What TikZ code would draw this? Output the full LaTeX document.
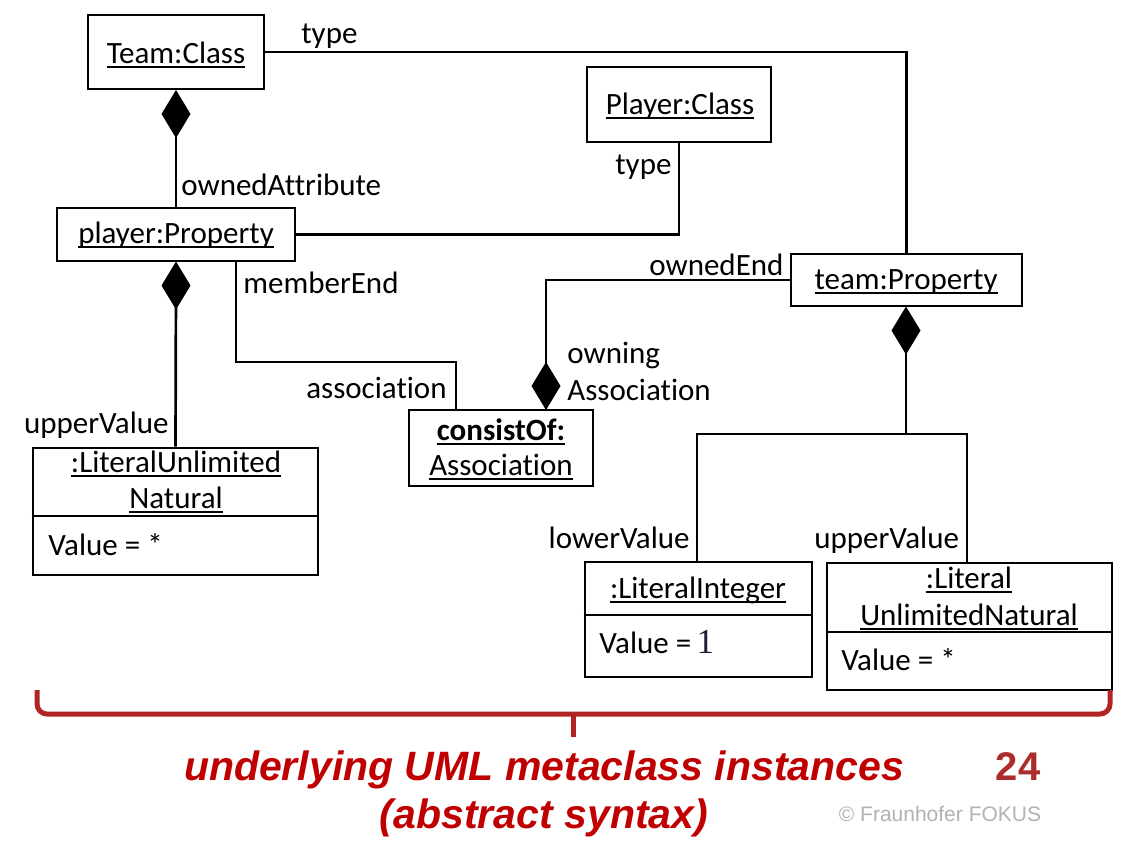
\documentclass[tikz,border=0pt]{standalone}
\usepackage{fontspec}
\setmainfont[Ligatures={NoCommon}]{Carlito}
\newfontfamily\arialf{Liberation Sans}
\newfontfamily\serifone{Liberation Serif}
\usetikzlibrary{shapes.geometric}
\definecolor{bracered}{RGB}{178,36,36}
\definecolor{textred}{RGB}{192,0,0}
\definecolor{numred}{RGB}{172,44,44}
\definecolor{copygray}{RGB}{178,178,178}
\definecolor{onecol}{RGB}{30,30,60}
\newsavebox\ulbox
\newcommand{\uln}[1]{\sbox\ulbox{#1}\leavevmode\rlap{\rule[-5pt]{\wd\ulbox}{1.8pt}}\usebox\ulbox}
\begin{document}
\begin{tikzpicture}[x=1pt,y=-1pt,line width=2.7pt,
  every node/.style={font=\fontsize{31}{37}\selectfont, inner sep=0pt},
  box/.style={draw, line width=2.7pt, inner sep=0pt},
  diam/.style={diamond, fill=black, draw=none, inner sep=0pt, outer sep=0pt, minimum width=29pt, minimum height=48pt},
  bottomtxt/.style={font=\arialf\bfseries\itshape\fontsize{41}{48}\selectfont, text=textred}]
\useasboundingbox (0,0) rectangle (1132,849);
\fill[white] (0,0) rectangle (1132,849);

% boxes
\node[box, minimum width=176pt, minimum height=74pt] (TC) at (176,52) {};
\node[box, minimum width=238pt, minimum height=53pt] (PP) at (176,234.5) {};
\node[box, minimum width=184pt, minimum height=75pt] (PC) at (679,104.5) {};
\node[box, minimum width=231pt, minimum height=52pt] (TP) at (906.5,280) {};
\node[box, minimum width=184pt, minimum height=76pt] (CO) at (501,448) {};
\node[box, minimum width=285pt, minimum height=127pt] (LB) at (175.5,511.5) {};
\node[box, minimum width=227pt, minimum height=115pt] (LI) at (698.5,619.5) {};
\node[box, minimum width=285pt, minimum height=127pt] (RB) at (969.5,626.5) {};

% dividers
\draw (LB.west |- 0,516) -- (LB.east |- 0,516);
\draw (LI.west |- 0,615) -- (LI.east |- 0,615);
\draw (RB.west |- 0,632) -- (RB.east |- 0,632);

% diamonds
\node[diam] (D1) at (176,114) {};
\node[diam] (D2) at (176,285.5) {};
\node[diam] (D3) at (546,386) {};
\node[diam] (D4) at (906,330.5) {};

% box texts
\node[anchor=base] (tTC) at (176,63) {\uln{Team:Class}};
\node[anchor=base] (tPP) at (176,243) {\uln{player:Property}};
\node[anchor=base] (tPC) at (680,114) {\uln{Player:Class}};
\node[anchor=base] (tTP) at (906,289) {\uln{team:Property}};
\node[anchor=base] (tCO1) at (501,440) {\uln{\bfseries consistOf:}};
\node[anchor=base] (tCO2) at (501,475) {\uln{Association}};
\node[anchor=base] (tLB1) at (176,472) {\uln{:LiteralUnlimited}};
\node[anchor=base] (tLB2) at (176,508) {\uln{Natural}};
\node[anchor=base west] (tLB3) at (47,555) {Value = *};
\node[anchor=base] (tLI1) at (698,598) {\uln{:LiteralInteger}};
\node[anchor=base west] (tLI2) at (598,653) {Value =\,{\serifone\fontsize{35}{40}\selectfont\color{onecol}1}};
\node[anchor=base] (tRB1) at (969,588) {\uln{:Literal}};
\node[anchor=base] (tRB2) at (969,625) {\uln{UnlimitedNatural}};
\node[anchor=base west] (tRB3) at (840,670) {Value = *};

% connector labels
\node[anchor=base west] (l1) at (300,43) {type};
\node[anchor=base west] (l2) at (180,195) {ownedAttribute};
\node[anchor=base west] (l3) at (242,293) {memberEnd};
\node[anchor=base west] (l4) at (614,174) {type};
\node[anchor=base west] (l5) at (648,275) {ownedEnd};
\node[anchor=base west] (l6) at (566,363) {owning};
\node[anchor=base west] (l7) at (566,400) {Association};
\node[anchor=base east] (l8) at (448,398) {association};
\node[anchor=base east] (l9) at (170,433) {upperValue};
\node[anchor=base east] (l10) at (691,548) {lowerValue};
\node[anchor=base west] (l11) at (813,548) {upperValue};

% connectors
\draw (TC.east) -| (TP.north);
\draw (D1.center) -- (PP.north);
\draw (PC.south) |- (PP.east);
\coordinate (me) at (456,362);
\draw ([xshift=60pt]PP.south) |- (me) -- (me |- CO.north);
\draw (TP.west) -| (D3.center);
\draw (D2.center) -- (LB.north);
\coordinate (split) at (906,434);
\draw (D4.center) -- (split);
\draw ([xshift=-1.5pt]LI.north) |- (split) -| ([xshift=-2.5pt]RB.north);

% brace
\coordinate (bl) at (37,690);
\coordinate (br) at (1110,690);
\coordinate (bm) at (573,714);
\coordinate (bt) at (573,737);
\draw[bracered, line width=5pt, rounded corners=10pt] (bl) -- (37,714) -- (1110,714) -- (br);
\draw[bracered, line width=5pt] (bm) -- (bt);

% bottom texts
\node[bottomtxt, anchor=base] (b1) at (544,780) {underlying UML metaclass instances};
\node[bottomtxt, anchor=base] (b2) at (544,828) {(abstract syntax)};
\node[anchor=base, font=\arialf\bfseries\fontsize{40}{46}\selectfont, text=numred] (num) at (1018,780) {24};
\node[anchor=base, font=\arialf\fontsize{21}{25}\selectfont, text=copygray] (cp) at (940,821) {© Fraunhofer FOKUS};
\end{tikzpicture}
\end{document}
